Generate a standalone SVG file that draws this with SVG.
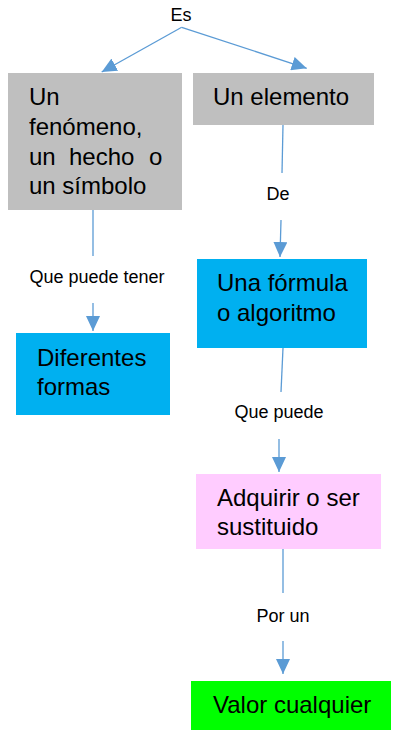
<svg xmlns="http://www.w3.org/2000/svg" width="396" height="730" viewBox="0 0 396 730">
<style>
.t{font-family:"Liberation Sans",Arial,sans-serif;font-size:24px;fill:#000}
.l{font-family:"Liberation Sans",Arial,sans-serif;font-size:18px;fill:#000;text-anchor:middle}
.c{stroke:#5B9BD5;stroke-width:1.3;fill:none}
</style>
<defs>
<marker id="a" markerUnits="userSpaceOnUse" markerWidth="15" markerHeight="14" viewBox="0 0 15 14" refX="15" refY="7" orient="auto">
<path d="M0,0 L15,7 L0,14 z" fill="#5B9BD5"/>
</marker>
</defs>
<rect width="396" height="730" fill="#fff"/>
<g id="connectors">
<path class="c" d="M181.7,27.3 L101.7,72" marker-end="url(#a)"/>
<path class="c" d="M181.7,27.3 L306.7,68.3" marker-end="url(#a)"/>
<path class="c" d="M93,210 L93,256"/>
<path class="c" d="M93,303 L93,331" marker-end="url(#a)"/>
<path class="c" d="M283,125 L282,173"/>
<path class="c" d="M281,220 L280,257" marker-end="url(#a)"/>
<path class="c" d="M283,348 L281,392"/>
<path class="c" d="M279,439 L279,472" marker-end="url(#a)"/>
<path class="c" d="M283,549 L283,593"/>
<path class="c" d="M283,641 L283,674" marker-end="url(#a)"/>
<text class="l" x="181" y="21">Es</text>
<text class="l" x="278" y="200">De</text>
<text class="l" x="97" y="283">Que puede tener</text>
<text class="l" x="279" y="418">Que puede</text>
<text class="l" x="283" y="622">Por un</text>
</g>
<g id="n1">
<rect x="8" y="73" width="174" height="137" fill="#BFBFBF"/>
<text class="t" x="29" y="105">Un</text>
<text class="t" x="29" y="135">fenómeno,</text>
<text class="t" y="165"><tspan x="29">un</tspan><tspan x="69">hecho</tspan><tspan x="149">o</tspan></text>
<text class="t" x="29" y="194">un símbolo</text>
</g>
<g id="n2">
<rect x="193" y="73" width="181" height="52" fill="#BFBFBF"/>
<text class="t" x="213" y="105">Un elemento</text>
</g>
<g id="n3">
<rect x="197" y="259" width="170" height="89" fill="#00B0F0"/>
<text class="t" x="217" y="291">Una fórmula</text>
<text class="t" x="217" y="321">o algoritmo</text>
</g>
<g id="n4">
<rect x="16" y="333" width="154" height="82" fill="#00B0F0"/>
<text class="t" x="37" y="366">Diferentes</text>
<text class="t" x="37" y="395">formas</text>
</g>
<g id="n5">
<rect x="196" y="474" width="185" height="75" fill="#FFCCFF"/>
<text class="t" x="217" y="506">Adquirir o ser</text>
<text class="t" x="217" y="535">sustituido</text>
</g>
<g id="n6">
<rect x="191" y="681" width="200" height="52" fill="#00FF00"/>
<text class="t" x="213" y="713">Valor cualquier</text>
</g>
</svg>
